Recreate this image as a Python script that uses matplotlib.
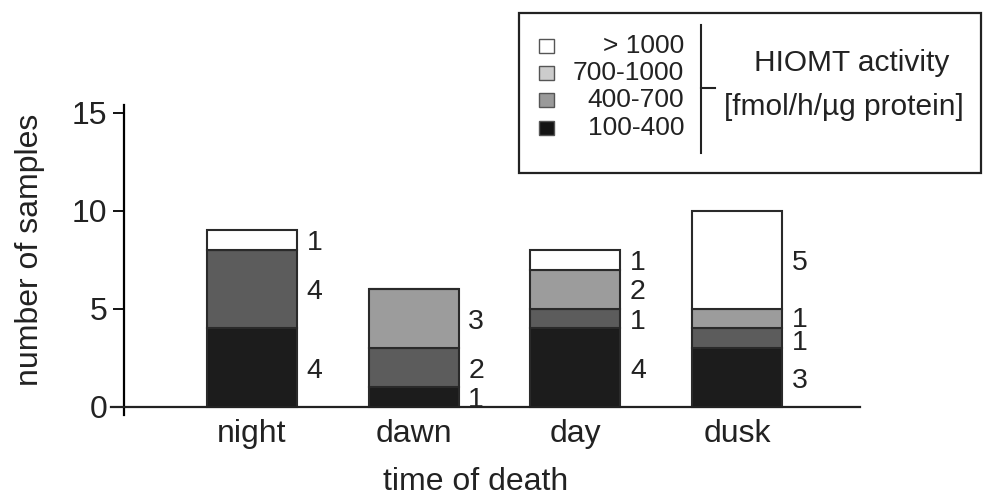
import numpy as np
import matplotlib.pyplot as plt
from matplotlib.patches import Rectangle
from matplotlib.lines import Line2D

plt.rcParams["font.family"] = ["Liberation Sans", "DejaVu Sans"]

# données : nombre d'échantillons par classe d'activité HIOMT
times = ["night", "dawn", "day", "dusk"]
classes = ["100-400", "400-700", "700-1000", "> 1000"]
n_100_400 = [4, 1, 4, 3]
n_400_700 = [4, 2, 1, 1]
n_700_1000 = [0, 3, 2, 1]
n_over_1000 = [1, 0, 1, 5]

BAR_COLORS = ["#1c1c1c", "#5c5c5c", "#9c9c9c", "#ffffff"]
LEGEND_COLORS = ["#141414", "#9a9a9a", "#cccccc", "#ffffff"]
EDGE = "#2a2a2a"
TXT = "#222222"
FS = 23
MIN_GAP = 1.2  # écart minimal entre étiquettes d'une même colonne


def spread(centers, gap):
    # écarte les étiquettes trop proches, symétriquement
    c = list(centers)
    for i in range(1, len(c)):
        d = c[i] - c[i - 1]
        if d < gap:
            c[i - 1] -= (gap - d) / 2
            c[i] += (gap - d) / 2
    return c


fig = plt.figure(figsize=(9.83, 4.97), dpi=100)
ax = fig.add_axes([124 / 983, 82.2 / 497, 736 / 983, 310 / 497])

x = np.arange(len(times))
series = [n_100_400, n_400_700, n_700_1000, n_over_1000]
bottom = np.zeros(len(times))
width = 0.556
labels = {i: [] for i in range(len(times))}

for vals, col in zip(series, BAR_COLORS):
    vals = np.array(vals, dtype=float)
    ax.bar(x, vals, width, bottom=bottom, color=col, edgecolor=EDGE,
           linewidth=1.5, zorder=2)
    for i, (b, v) in enumerate(zip(bottom, vals)):
        if v > 0:
            labels[i].append((b + v / 2, int(v)))
    bottom += vals

for i, items in labels.items():
    ys = spread([y for y, _ in items], MIN_GAP)
    for yy, (_, v) in zip(ys, items):
        ax.text(x[i] + width / 2 + 0.06, yy, f"{v}", ha="left",
                va="center_baseline", fontsize=20.5, color=TXT)

ax.set_xlim(-0.79, 3.76)
ax.set_ylim(-0.4, 15.4)

for s in ax.spines.values():
    s.set_visible(False)

# axes dessinés à la main (l'axe y dépasse sous zéro)
ax.plot([0, 0], [0, 1], transform=ax.transAxes, color="black",
        linewidth=1.6, clip_on=False, zorder=3)
ax.axhline(0, xmin=-0.018, xmax=1, color="#222222", linewidth=1.6,
           clip_on=False, zorder=3)

ax.set_yticks([0, 5, 10, 15])
ax.tick_params(axis="y", direction="out", length=8, width=1.3,
               labelsize=FS, labelcolor=TXT, pad=4)
ax.set_xticks(x)
ax.set_xticklabels(times)
ax.tick_params(axis="x", length=0, labelsize=FS, labelcolor=TXT, pad=3)

fig.text(30 / 983, 1 - 250 / 497, "number of samples", rotation=90,
         ha="center", va="center", fontsize=FS, color=TXT)
fig.text(476 / 983, 1 - 482 / 497, "time of death", ha="center",
         va="center", fontsize=FS, color=TXT)

# légende encadrée
fig.patches.append(Rectangle((519 / 983, 1 - 173 / 497), 462 / 983,
                             160 / 497, transform=fig.transFigure,
                             facecolor="white", edgecolor="#222222",
                             linewidth=1.6))

rows_y = [128, 100, 73, 46]
for yy, lab, col in zip(rows_y, classes, LEGEND_COLORS):
    fig.patches.append(Rectangle((539 / 983, 1 - (yy + 7) / 497), 15 / 983,
                                 14 / 497, transform=fig.transFigure,
                                 facecolor=col, edgecolor="#555555",
                                 linewidth=1.0))
    fig.text(684 / 983, 1 - yy / 497, lab, ha="right", va="center",
             fontsize=19, color=TXT)

fig.lines.append(Line2D([701 / 983, 701 / 983], [1 - 25 / 497, 1 - 153 / 497],
                        transform=fig.transFigure, color="#222222",
                        linewidth=1.5))
fig.lines.append(Line2D([701 / 983, 715 / 983], [1 - 88 / 497, 1 - 88 / 497],
                        transform=fig.transFigure, color="#222222",
                        linewidth=1.5))

fig.text(852 / 983, 1 - 63 / 497, "HIOMT activity", ha="center",
         va="center", fontsize=21.5, color=TXT)
fig.text(844 / 983, 1 - 107 / 497, "[fmol/h/µg protein]", ha="center",
         va="center", fontsize=21.5, color=TXT)

fig.savefig("out.png", dpi=100)
